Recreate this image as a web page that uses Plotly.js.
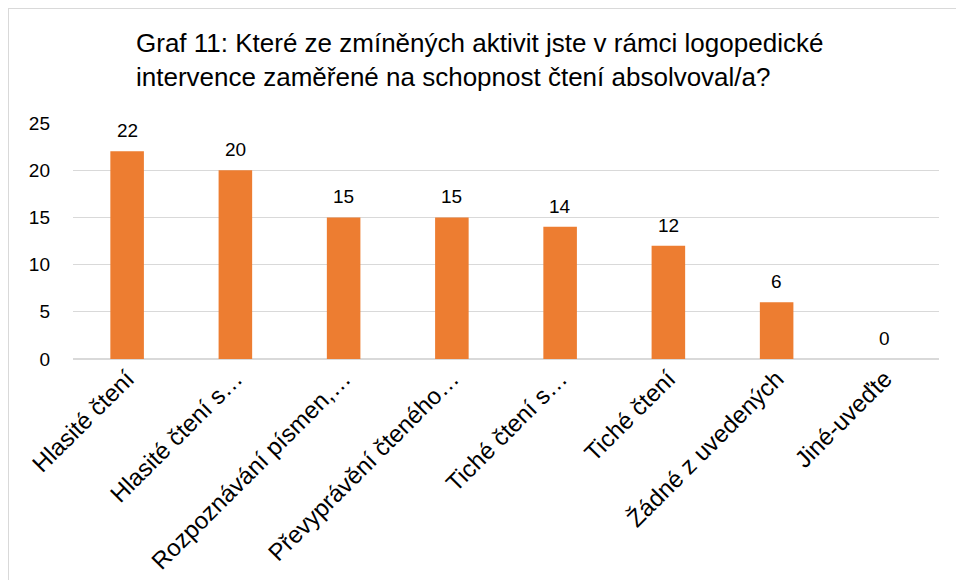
<!DOCTYPE html>
<html>
<head>
<meta charset="utf-8">
<script src="https://cdn.plot.ly/plotly-3.0.1.min.js"></script>
<style>
html,body{margin:0;padding:0;background:#fff;overflow:hidden;}
#chart{width:956px;height:580px;position:absolute;left:0;top:0;}
#frame{position:absolute;left:8px;top:8px;width:1200px;height:1200px;border:1px solid #d9d9d9;pointer-events:none;}
</style>
</head>
<body>
<div id="chart"></div>
<div id="frame"></div>
<script>
const categories = [
  "Hlasité čtení",
  "Hlasité čtení s…",
  "Rozpoznávání písmen,…",
  "Převyprávění čteného…",
  "Tiché čtení s…",
  "Tiché čtení",
  "Žádné z uvedených",
  "Jiné-uveďte"
];
const values = [22, 20, 15, 15, 14, 12, 6, 0];
const yTicks = [0, 5, 10, 15, 20, 25];
const titleText = "Graf 11: Které ze zmíněných aktivit jste v rámci logopedické<br>intervence zaměřené na schopnost čtení absolvoval/a?";

const fontFamily = "Liberation Sans, Arial, sans-serif";

const trace = {
  type: "bar",
  x: categories,
  y: values,
  marker: {color: "#ED7D31"},
  width: 0.31,
  hoverinfo: "none"
};

const labelAnnotations = categories.map((c, i) => ({
  x: c,
  y: values[i],
  xref: "x",
  yref: "y",
  text: String(values[i]),
  showarrow: false,
  yanchor: "bottom",
  yshift: 8,
  font: {family: fontFamily, size: 19, color: "#000"}
}));

const layout = {
  width: 956,
  height: 580,
  margin: {l: 73, r: 17, t: 123, b: 221},
  paper_bgcolor: "rgba(0,0,0,0)",
  plot_bgcolor: "#fff",
  showlegend: false,
  bargap: 0.69,
  annotations: labelAnnotations,
  title: {
    text: titleText,
    font: {family: fontFamily, size: 26, color: "#000"},
    xref: "container",
    yref: "container",
    x: 136/956,
    xanchor: "left",
    y: 1 - 52/580,
    yanchor: "top",
    align: "left"
  },
  xaxis: {
    type: "category",
    tickangle: -45,
    tickfont: {family: fontFamily, size: 24, color: "#000"},
    showgrid: false,
    showline: false,
    ticks: "",
    automargin: false
  },
  yaxis: {
    range: [0, 25],
    tickvals: yTicks,
    ticktext: yTicks.map(String),
    tickfont: {family: fontFamily, size: 19, color: "#000"},
    showgrid: true,
    gridcolor: "#d9d9d9",
    gridwidth: 1,
    zeroline: true,
    zerolinecolor: "#d9d9d9",
    zerolinewidth: 1.5,
    showline: false,
    ticks: "",
    ticklabelstandoff: 22,
    automargin: false
  }
};

Plotly.newPlot("chart", [trace], layout, {displayModeBar: false, staticPlot: true});
</script>
</body>
</html>
